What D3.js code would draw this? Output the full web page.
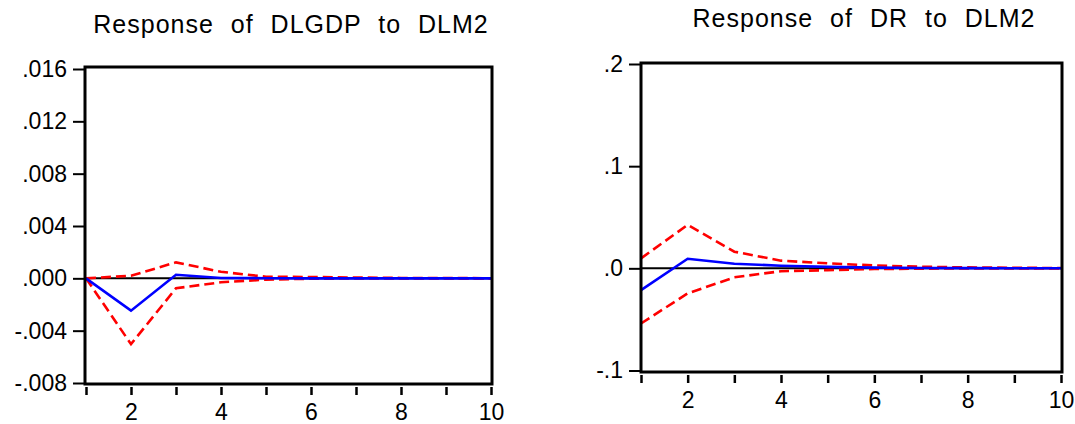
<!DOCTYPE html>
<html>
<head>
<meta charset="utf-8">
<script src="https://cdn.jsdelivr.net/npm/d3@7"></script>
<style>
  body { margin: 0; background: #fff; }
  svg { display: block; }
  text { font-family: "Liberation Sans", Arial, sans-serif; fill: #000; }
</style>
</head>
<body>
<svg id="chart" width="1075" height="424"></svg>
<script>
// horizon periods (x axis)
var periods = [1, 2, 3, 4, 5, 6, 7, 8, 9, 10];
var xTickLabels = ['', '2', '', '4', '', '6', '', '8', '', '10'];

// Response of DLGDP to DLM2
var gdpResponse = [0, -0.00247, 0.00027, 0.00003, 0.00001, 0, 0, 0, 0, 0];
var gdpUpper = [0, 0.0002, 0.00122, 0.0005, 0.00012, 0.0001, 0.00006, 0.00003, 0.00002, 0.00001];
var gdpLower = [0, -0.00503, -0.00076, -0.0003, -0.0001, -0.00003, -0.00001, 0, 0, 0];
var gdpTicks = [-0.008, -0.004, 0, 0.004, 0.008, 0.012, 0.016];
var gdpTickLabels = ['-.008', '-.004', '.000', '.004', '.008', '.012', '.016'];

// Response of DR to DLM2
var drResponse = [-0.0213, 0.0094, 0.0045, 0.0026, 0.0014, 0.0007, 0.0004, 0.0002, 0.0001, 0.0001];
var drUpper = [0.0098, 0.0425, 0.0163, 0.0075, 0.0049, 0.0028, 0.0016, 0.0009, 0.0005, 0.0003];
var drLower = [-0.054, -0.0245, -0.0088, -0.0028, -0.0018, -0.0007, -0.0003, -0.0001, -0.0001, 0];
var drTicks = [-0.1, 0, 0.1, 0.2];
var drTickLabels = ['-.1', '.0', '.1', '.2'];

var svg = d3.select('#chart');

function drawPanel(opt) {
  var g = svg.append('g');

  var x = d3.scaleLinear().domain([1, 10]).range([opt.left, opt.right]);
  var y = d3.scaleLinear().domain(opt.domain).range([opt.bottom, opt.top]);

  // title
  g.append('text')
    .attr('x', opt.titleX)
    .attr('y', opt.titleY)
    .attr('text-anchor', 'middle')
    .style('font-size', '25px')
    .style('letter-spacing', '1px')
    .style('word-spacing', '9px')
    .text(opt.title);

  // y axis
  var yAxis = d3.axisLeft(y)
    .tickValues(opt.ticks)
    .tickFormat(function(d, i) { return opt.tickLabels[i]; })
    .tickSize(12)
    .tickPadding(6);
  var ya = g.append('g')
    .attr('transform', 'translate(' + opt.frame[0] + ',0)')
    .call(yAxis);
  ya.select('.domain').remove();
  ya.selectAll('line').attr('stroke', '#000').attr('stroke-width', 2);
  ya.selectAll('text').style('font-size', '23px');

  // x axis
  var xAxis = d3.axisBottom(x)
    .tickValues(periods)
    .tickFormat(function(d, i) { return xTickLabels[i]; })
    .tickSize(8)
    .tickPadding(9);
  var xa = g.append('g')
    .attr('transform', 'translate(0,' + (opt.frame[3] + 3) + ')')
    .call(xAxis);
  xa.select('.domain').remove();
  xa.selectAll('line').attr('stroke', '#000').attr('stroke-width', 2.5);
  xa.selectAll('text').style('font-size', '23px');
  ya.attr('font-family', null).attr('font-size', null);
  xa.attr('font-family', null).attr('font-size', null);

  // zero line
  g.append('line')
    .attr('x1', opt.frame[0]).attr('x2', opt.frame[2])
    .attr('y1', y(0)).attr('y2', y(0))
    .attr('stroke', '#000').attr('stroke-width', 2);

  var line = d3.line()
    .x(function(d, i) { return x(periods[i]); })
    .y(function(d) { return y(d); });

  g.append('path').datum(opt.upper)
    .attr('d', line).attr('fill', 'none')
    .attr('stroke', '#ff0000').attr('stroke-width', 2.6)
    .attr('stroke-dasharray', '10,5');
  g.append('path').datum(opt.lower)
    .attr('d', line).attr('fill', 'none')
    .attr('stroke', '#ff0000').attr('stroke-width', 2.6)
    .attr('stroke-dasharray', '10,5');
  g.append('path').datum(opt.response)
    .attr('d', line).attr('fill', 'none')
    .attr('stroke', '#0000ff').attr('stroke-width', 2.6);

  // frame
  g.append('rect')
    .attr('x', opt.frame[0]).attr('y', opt.frame[1])
    .attr('width', opt.frame[2] - opt.frame[0])
    .attr('height', opt.frame[3] - opt.frame[1])
    .attr('fill', 'none').attr('stroke', '#000').attr('stroke-width', 3);
}

drawPanel({
  title: 'Response of DLGDP to DLM2',
  titleX: 291, titleY: 33,
  left: 86, right: 491,
  top: 69, bottom: 383,
  domain: [-0.008, 0.016],
  frame: [85, 67, 492, 384],
  ticks: gdpTicks, tickLabels: gdpTickLabels,
  response: gdpResponse, upper: gdpUpper, lower: gdpLower
});

drawPanel({
  title: 'Response of DR to DLM2',
  titleX: 864, titleY: 27,
  left: 641, right: 1061,
  top: 64, bottom: 370.5,
  domain: [-0.1, 0.2],
  frame: [641, 63, 1062, 372],
  ticks: drTicks, tickLabels: drTickLabels,
  response: drResponse, upper: drUpper, lower: drLower
});
</script>
</body>
</html>
